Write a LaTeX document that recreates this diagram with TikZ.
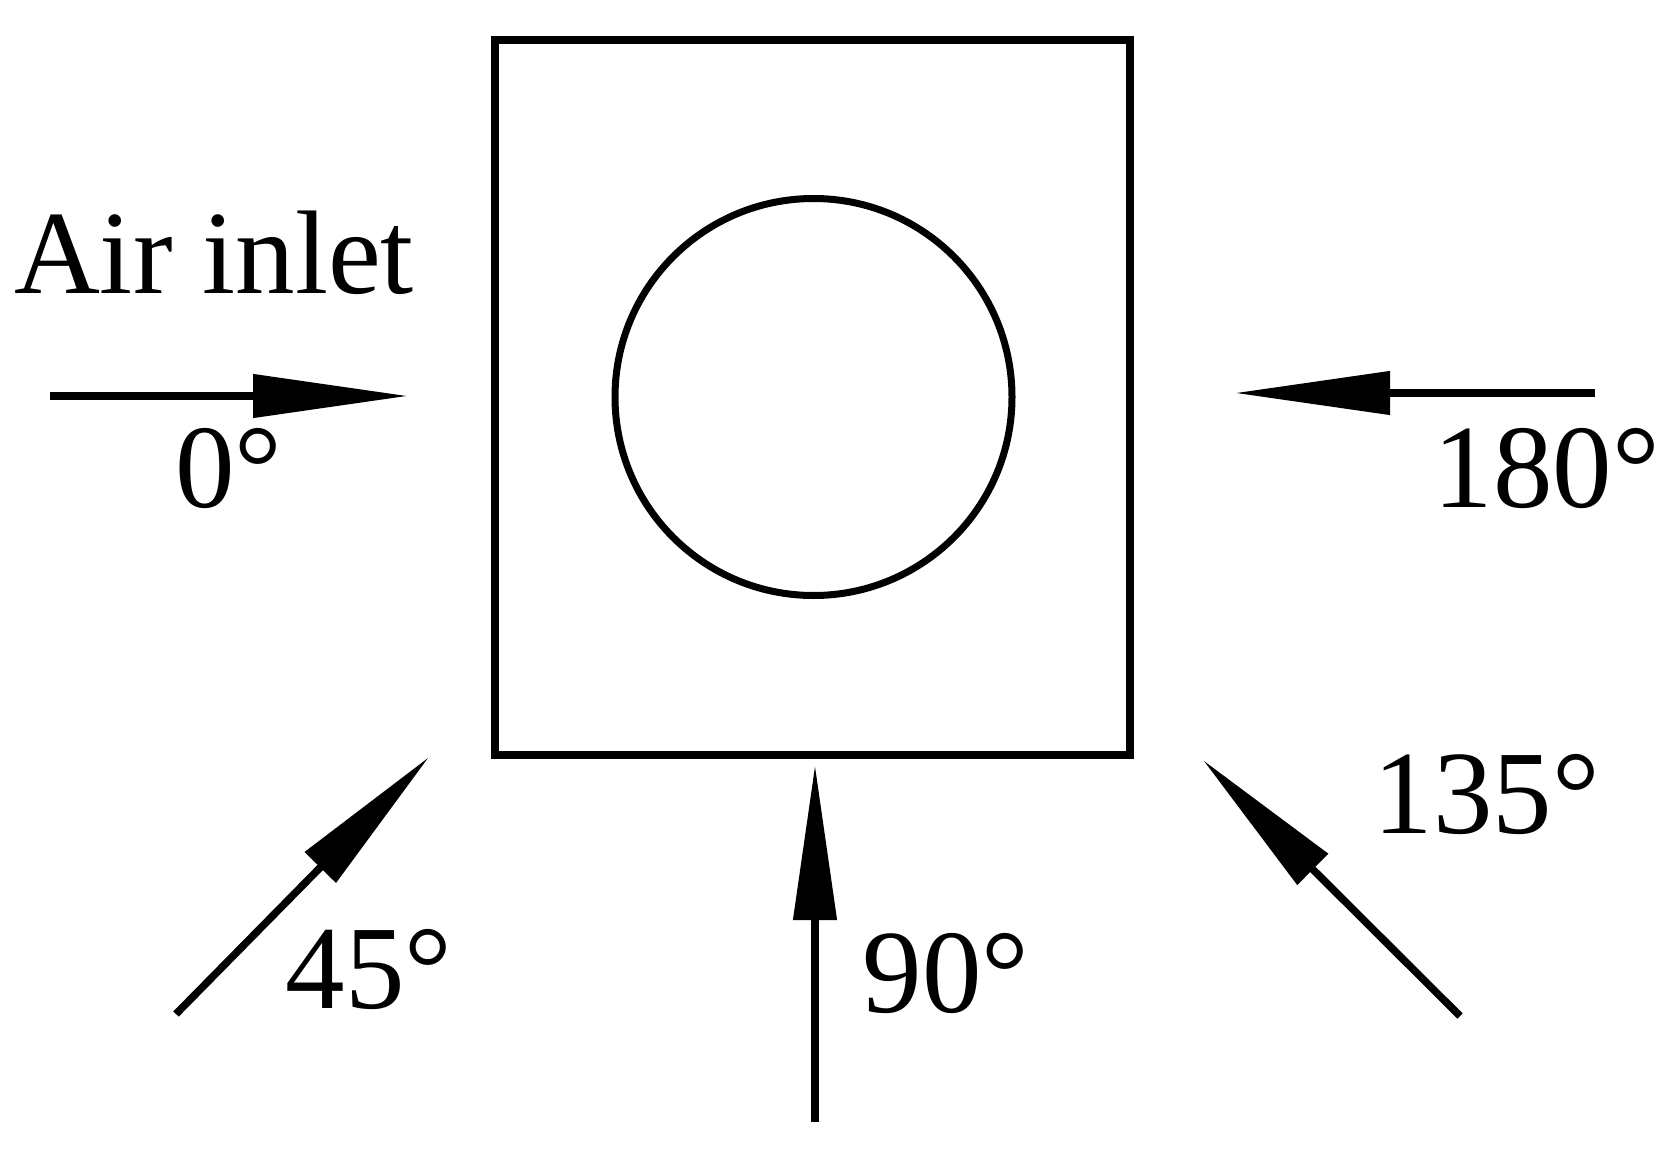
\documentclass[tikz,border=0pt]{standalone}
\usepackage{fontspec}
\setmainfont{Liberation Serif}
\usetikzlibrary{arrows.meta}
\begin{document}
\begin{tikzpicture}[x=1pt,y=-1pt,
  lbl/.style={anchor=base,inner sep=0pt,font=\fontsize{119}{130}\selectfont},
  flow/.style={line width=7.5pt,-{Triangle[length=155pt,width=42pt]}}]
\useasboundingbox (0,0) rectangle (1665,1151);
\node (box) [draw,line width=8.5pt,minimum width=635pt,minimum height=715pt,inner sep=0pt] at (812.5,397.5) {};
\node (tube) [draw,circle,line width=7pt,minimum size=397pt,inner sep=0pt] at (813.5,397) {};
% arrow end points
\coordinate (a0s) at (50,396);    \coordinate (a0t) at (408,396);
\coordinate (a180s) at (1595,393); \coordinate (a180t) at (1235,393);
\coordinate (a45s) at (176,1014);  \coordinate (a45t) at (429,757);
\coordinate (a90s) at (815,1122);  \coordinate (a90t) at (815,765);
\coordinate (a135s) at (1460,1016); \coordinate (a135t) at (1203,760);
\draw[flow] (a0s) -- (a0t);
\draw[flow] (a180s) -- (a180t);
\draw[flow] (a45s) -- (a45t);
\draw[flow] (a90s) -- (a90t);
\draw[flow] (a135s) -- (a135t);
% labels
\node (inlet) [lbl] at (214,293) {Air inlet};
\node (l0) [lbl] at (229,507) {0°};
\node (l180) [lbl] at (1547,507) {180°};
\node (l135) [lbl] at (1487,833) {135°};
\node (l45) [lbl] at (369,1008) {45°};
\node (l90) [lbl] at (946,1012) {90°};
\end{tikzpicture}
\end{document}
